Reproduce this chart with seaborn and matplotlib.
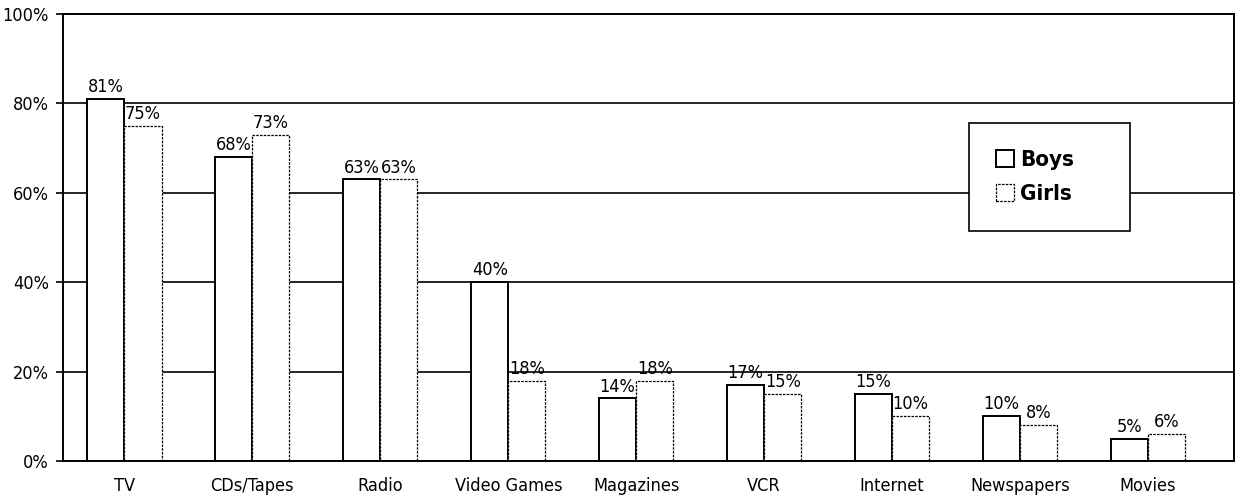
import pandas as pd
import matplotlib
matplotlib.use('Agg')
import matplotlib.pyplot as plt
import seaborn as sns
from matplotlib.ticker import FuncFormatter

sns.set_style('white')
plt.rcParams['font.family'] = ['DejaVu Sans']
plt.rcParams['font.stretch'] = 'condensed'
plt.rcParams['text.color'] = 'black'
plt.rcParams['xtick.color'] = 'black'
plt.rcParams['ytick.color'] = 'black'

medias = ['TV', 'CDs/Tapes', 'Radio', 'Video Games', 'Magazines', 'VCR',
          'Internet', 'Newspapers', 'Movies']
boys = [81, 68, 63, 40, 14, 17, 15, 10, 5]
girls = [75, 73, 63, 18, 18, 15, 10, 8, 6]

df = pd.DataFrame({
    'media': medias * 2,
    'pct': boys + girls,
    'genre': ['Boys'] * len(medias) + ['Girls'] * len(medias),
})

fig, ax = plt.subplots(figsize=(12.5, 4.96), dpi=100)
fig.subplots_adjust(left=0.0504, right=0.987, top=0.972, bottom=0.0706)

sns.barplot(data=df, x='media', y='pct', hue='genre', palette=['white', 'white'],
            edgecolor='black', linewidth=1.4, width=0.58, legend=False, ax=ax)

# les barres des filles ont un contour pointillé
for p in ax.containers[1]:
    p.set_linestyle((0, (2, 1)))
    p.set_linewidth(0.9)

for cont in ax.containers:
    ax.bar_label(cont, labels=[f"{v:.0f}%" for v in cont.datavalues],
                 padding=2, fontsize=13)

ax.set_ylim(0, 100)
ax.set_xlim(-0.48, 8.67)
ax.set_yticks([0, 20, 40, 60, 80, 100])
ax.yaxis.set_major_formatter(FuncFormatter(lambda v, _: f"{v:.0f}%"))
ax.yaxis.grid(True, color='black', linewidth=1.2)
ax.set_axisbelow(True)
ax.tick_params(axis='y', which='major', left=True, length=5, width=1.2,
               labelsize=13, pad=5)
ax.tick_params(axis='x', bottom=False, labelsize=13, pad=8)
for s in ax.spines.values():
    s.set_color('black')
    s.set_linewidth(1.4)
ax.set_xlabel('')
ax.set_ylabel('')

leg = ax.legend(handles=[ax.containers[0][0], ax.containers[1][0]],
                labels=['Boys', 'Girls'], loc='upper left',
                bbox_to_anchor=(0.774, 0.51, 0.137, 0.245), mode='expand',
                borderaxespad=0, frameon=True, fancybox=False,
                framealpha=1, edgecolor='black', borderpad=1.2,
                handlelength=0.8, handleheight=0.8, handletextpad=0.3,
                labelspacing=0.6, prop={'size': 16, 'weight': 'bold'})
leg.get_frame().set_linewidth(1.2)
for t in leg.get_texts():
    t.set_color('black')

plt.savefig('out.png', dpi=100)
plt.close()
